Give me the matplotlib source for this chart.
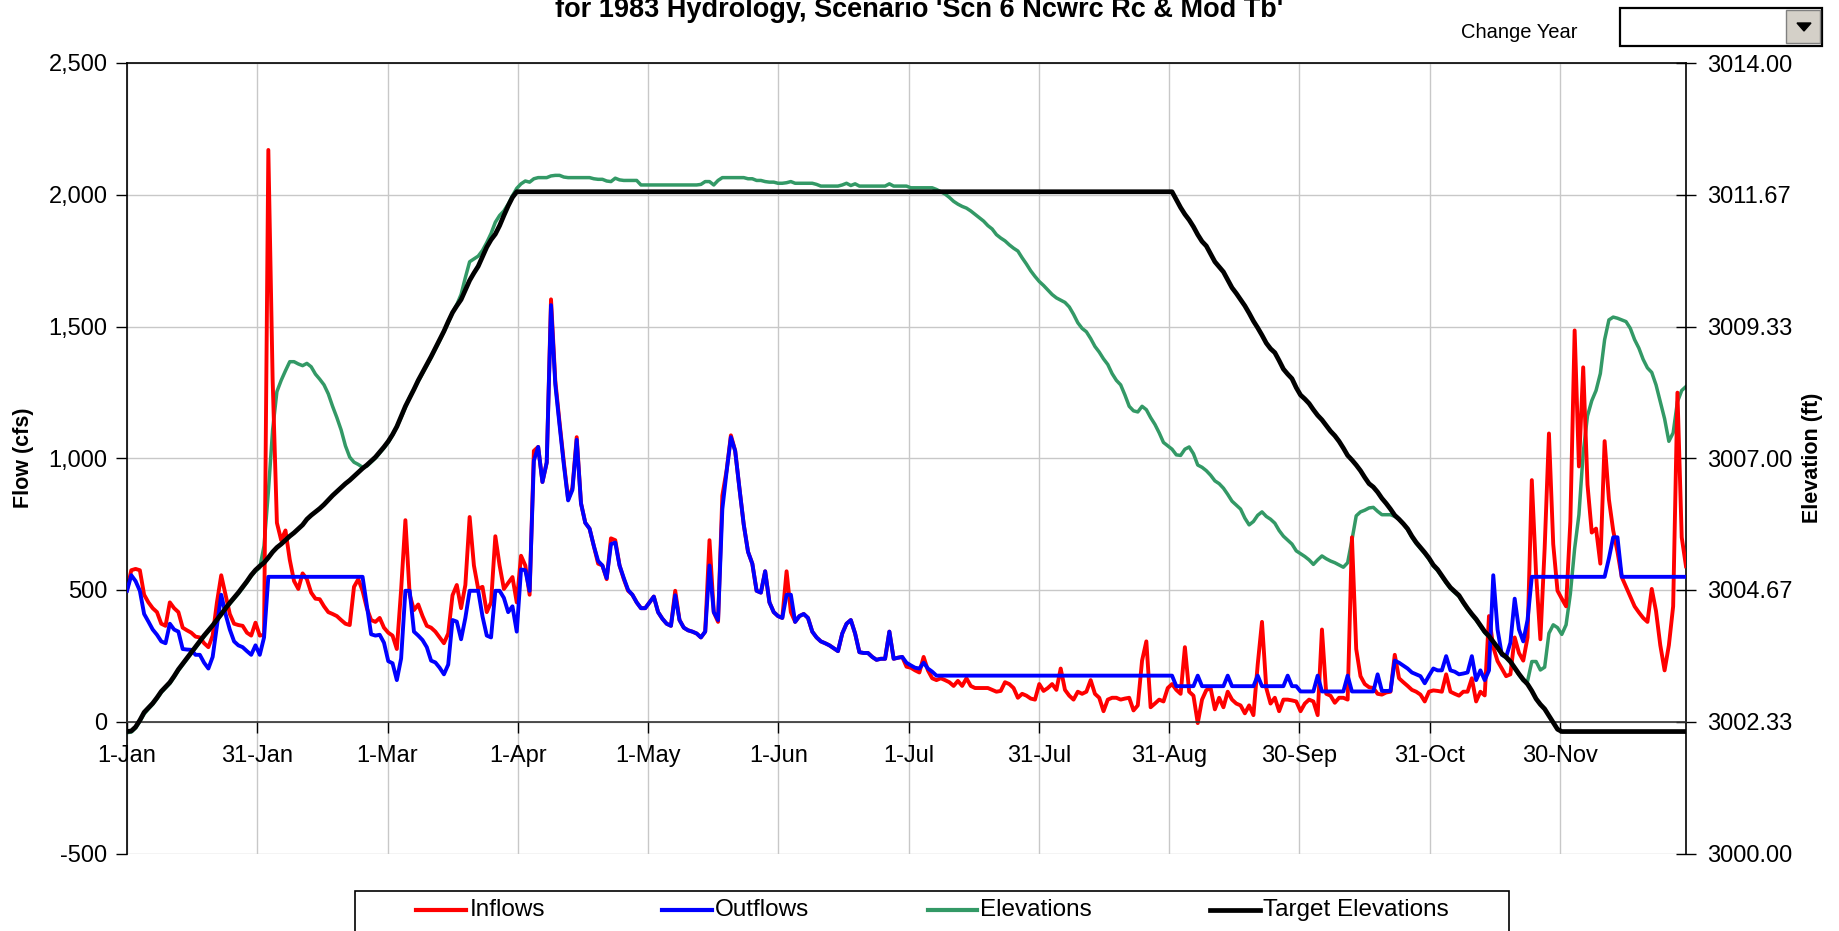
import numpy as np
import matplotlib
matplotlib.use("Agg")
import matplotlib.pyplot as plt
from matplotlib.patches import Rectangle, Polygon
from matplotlib.lines import Line2D
from matplotlib.ticker import FuncFormatter, FixedLocator

# ---------------- data (daily, 1-Jan .. 31-Dec 1983) ----------------
tick_labels = ["1-Jan", "31-Jan", "1-Mar", "1-Apr", "1-May", "1-Jun", "1-Jul",
               "31-Jul", "31-Aug", "30-Sep", "31-Oct", "30-Nov"]

inflows = [
    500, 575, 580, 575, 482, 453, 431, 416, 372, 364,
    453, 431, 416, 357, 347, 338, 323, 320, 298, 283,
    327, 453, 556, 482, 409, 372, 367, 364, 338, 327,
    376, 327, 330, 2170, 1300, 755, 689, 726, 615, 534,
    504, 563, 541, 490, 467, 465, 438, 416, 409, 401,
    386, 372, 367, 512, 541, 497, 431, 386, 379, 394,
    357, 338, 327, 276, 500, 765, 482, 424, 445, 401,
    364, 357, 342, 320, 298, 335, 480, 519, 431, 519,
    777, 593, 504, 512, 416, 453, 704, 593, 504, 527,
    549, 453, 630, 593, 482, 1028, 1043, 910, 984, 1603,
    1294, 1135, 984, 844, 888, 1080, 829, 755, 733, 667,
    600, 593, 541, 696, 689, 593, 541, 497, 482, 453,
    431, 431, 453, 475, 416, 391, 372, 364, 497, 386,
    357, 347, 342, 335, 320, 342, 689, 416, 379, 858,
    954, 1087, 1028, 885, 748, 645, 600, 497, 490, 571,
    453, 416, 401, 394, 571, 416, 379, 401, 409, 394,
    342, 320, 305, 298, 290, 279, 268, 335, 372, 386,
    335, 264, 261, 261, 246, 235, 239, 239, 342, 239,
    243, 246, 209, 205, 195, 187, 246, 195, 165, 158,
    165, 158, 150, 136, 155, 136, 165, 136, 128, 128,
    128, 128, 121, 114, 117, 150, 143, 128, 91, 106,
    99, 88, 84, 143, 117, 128, 143, 121, 202, 121,
    99, 84, 114, 106, 114, 158, 106, 91, 40, 84,
    91, 91, 84, 88, 91, 43, 62, 232, 305, 55,
    69, 84, 77, 128, 143, 121, 106, 283, 114, 99,
    -5, 84, 120, 128, 47, 91, 55, 114, 84, 69,
    62, 32, 62, 25, 217, 379, 128, 69, 91, 40,
    84, 84, 81, 77, 40, 69, 84, 77, 25, 350,
    106, 99, 72, 91, 91, 84, 700, 276, 173, 143,
    131, 128, 106, 103, 111, 114, 254, 165, 150, 136,
    121, 114, 103, 77, 114, 119, 117, 114, 180, 114,
    106, 99, 114, 114, 165, 77, 114, 100, 401, 283,
    230, 202, 173, 180, 320, 261, 232, 320, 917, 560,
    313, 659, 1094, 674, 497, 467, 438, 760, 1485, 969,
    1345, 900, 718, 733, 600, 1065, 844, 726, 645, 549,
    512, 475, 438, 415, 394, 379, 504, 420, 290, 195,
    290, 438, 1249, 700, 590,
]

outflows = (
    [497, 556, 534, 497, 409, 380, 350, 330, 305, 298,
     372, 350, 342, 276, 274, 273, 254, 254, 224, 202,
     246, 364, 482, 409, 350, 305, 290, 283, 268, 254,
     290, 254, 320]
    + [550] * 23
    + [440, 332, 327, 330,
       300, 230, 222, 158, 240, 497, 497, 342, 327, 310,
       283, 232, 225, 205, 180, 217, 386, 380, 313, 394,
       497, 497, 497, 400, 327, 320, 497, 497, 470, 416,
       438, 342, 578, 575, 497, 991, 1043, 910, 984, 1581,
       1280, 1125, 975, 840, 880, 1070, 829, 755, 733, 667,
       610, 593, 545, 674, 680, 593, 545, 500, 482, 453,
       431, 431, 453, 475, 416, 391, 372, 364, 480, 386,
       357, 347, 342, 335, 320, 342, 593, 416, 386, 807,
       950, 1080, 1028, 885, 748, 645, 600, 497, 490, 571,
       453, 416, 401, 394, 482, 482, 379, 401, 409, 394,
       342, 320, 305, 298, 290, 279, 268, 335, 372, 386,
       335, 264, 261, 261, 246, 235, 239, 239, 342, 239,
       243, 246, 224, 214, 205, 202, 224, 202, 190]
    + [175] * 56
    + [135] * 5 + [175] + [135] * 6 + [175] + [135] * 6 + [175] + [135] * 6
    + [175] + [135] * 2 + [115] * 4 + [175] + [115] * 6 + [175] + [115] * 6
    + [180, 117, 117, 117,
       232, 224, 213, 202, 187, 180, 173, 146, 175, 202,
       195, 195, 249, 195, 190, 180, 183, 187, 249, 158,
       195, 158, 195, 556, 350, 254, 246, 300, 467, 350,
       305, 386]
    + [550] * 18
    + [620, 700, 700]
    + [550] * 16
)

elevations = (
    [3002.14, 3002.15, 3002.22, 3002.34, 3002.47, 3002.56, 3002.64, 3002.74, 3002.85, 3002.93,
     3003.01, 3003.12, 3003.24, 3003.34, 3003.44, 3003.54, 3003.64, 3003.74, 3003.84, 3003.93,
     3004.02, 3004.12, 3004.22, 3004.32, 3004.42, 3004.51, 3004.60, 3004.70, 3004.80, 3004.91,
     3005.00, 3005.06, 3005.45, 3006.40, 3007.50, 3008.18, 3008.38, 3008.55, 3008.71, 3008.71,
     3008.67, 3008.64, 3008.68, 3008.62, 3008.49, 3008.40, 3008.30, 3008.14, 3007.92, 3007.72,
     3007.50, 3007.22, 3007.02, 3006.93, 3006.89, 3006.84, 3006.86, 3006.93, 3007.00, 3007.09,
     3007.18, 3007.28, 3007.41, 3007.56, 3007.72, 3007.90, 3008.08, 3008.22, 3008.36, 3008.50,
     3008.64, 3008.78, 3008.93, 3009.08, 3009.24, 3009.40, 3009.58, 3009.72, 3009.90, 3010.20,
     3010.48, 3010.53, 3010.58, 3010.68, 3010.82, 3010.98, 3011.18, 3011.30, 3011.38, 3011.50,
     3011.65, 3011.78, 3011.86, 3011.91, 3011.89, 3011.95, 3011.97, 3011.97, 3011.97, 3012.00,
     3012.01, 3012.01, 3011.98, 3011.97, 3011.97, 3011.97, 3011.97, 3011.97, 3011.97, 3011.95,
     3011.94, 3011.94, 3011.91, 3011.90, 3011.96, 3011.93, 3011.92, 3011.92, 3011.92, 3011.92]
    + [3011.84] * 14
    + [3011.85, 3011.90, 3011.90, 3011.84, 3011.92, 3011.97,
       3011.97, 3011.97, 3011.97, 3011.97, 3011.97, 3011.95, 3011.95, 3011.92, 3011.92, 3011.90,
       3011.89, 3011.89, 3011.87, 3011.87, 3011.88, 3011.90, 3011.87, 3011.87, 3011.87, 3011.87,
       3011.87, 3011.85, 3011.82, 3011.82, 3011.82, 3011.82, 3011.82, 3011.84, 3011.87, 3011.83,
       3011.86, 3011.82, 3011.82, 3011.82, 3011.82, 3011.82, 3011.82, 3011.82, 3011.86, 3011.82,
       3011.82, 3011.82, 3011.82, 3011.79, 3011.79, 3011.79, 3011.79, 3011.79, 3011.79, 3011.76,
       3011.72, 3011.68, 3011.62, 3011.55, 3011.50, 3011.46, 3011.43, 3011.38, 3011.32, 3011.26,
       3011.20, 3011.12, 3011.06, 3010.96, 3010.90, 3010.85, 3010.78, 3010.72, 3010.67, 3010.55,
       3010.44, 3010.32, 3010.22, 3010.13, 3010.06, 3009.98, 3009.90, 3009.84, 3009.80, 3009.76,
       3009.68, 3009.55, 3009.40, 3009.30, 3009.24, 3009.12, 3008.98, 3008.88, 3008.76, 3008.66,
       3008.50, 3008.38, 3008.30, 3008.12, 3007.92, 3007.84, 3007.82, 3007.92, 3007.86, 3007.72,
       3007.60, 3007.45, 3007.28, 3007.22, 3007.16, 3007.06, 3007.05, 3007.16, 3007.20, 3007.08,
       3006.88, 3006.84, 3006.78, 3006.70, 3006.60, 3006.55, 3006.47, 3006.36, 3006.24, 3006.17,
       3006.10, 3005.94, 3005.82, 3005.88, 3005.99, 3006.05, 3005.97, 3005.92, 3005.85, 3005.72,
       3005.62, 3005.55, 3005.48, 3005.36, 3005.31, 3005.26, 3005.20, 3005.12, 3005.20, 3005.27,
       3005.22, 3005.18, 3005.15, 3005.11, 3005.07, 3005.15, 3005.55, 3005.98, 3006.05, 3006.08,
       3006.12, 3006.13, 3006.06, 3006.00, 3006.00, 3006.00, 3005.97, 3005.92, 3005.84, 3005.74,
       3005.60, 3005.49, 3005.40, 3005.31, 3005.21, 3005.09, 3005.01, 3004.90, 3004.79, 3004.69,
       3004.62, 3004.55, 3004.43, 3004.32, 3004.22, 3004.13, 3004.02, 3003.91, 3003.83, 3003.73,
       3003.63, 3003.52, 3003.46, 3003.38, 3003.27, 3003.16, 3003.06, 3003.05, 3003.40, 3003.40,
       3003.25, 3003.30, 3003.90, 3004.05, 3004.00, 3003.88, 3004.05, 3004.60, 3005.40, 3006.00,
       3007.10, 3007.75, 3008.02, 3008.20, 3008.50, 3009.10, 3009.45, 3009.50, 3009.48, 3009.45,
       3009.42, 3009.30, 3009.10, 3008.95, 3008.75, 3008.60, 3008.52, 3008.30, 3008.00, 3007.70,
       3007.30, 3007.45, 3008.00, 3008.20, 3008.27]
)

target_elevations = (
    [3002.16, 3002.17, 3002.24, 3002.36, 3002.50, 3002.58, 3002.66, 3002.76, 3002.87, 3002.95,
     3003.03, 3003.14, 3003.26, 3003.36, 3003.46, 3003.56, 3003.66, 3003.76, 3003.86, 3003.95,
     3004.04, 3004.14, 3004.24, 3004.34, 3004.44, 3004.53, 3004.62, 3004.72, 3004.82, 3004.93,
     3005.02, 3005.09, 3005.15, 3005.24, 3005.34, 3005.42, 3005.48, 3005.55, 3005.62, 3005.68,
     3005.75, 3005.82, 3005.92, 3005.99, 3006.05, 3006.11, 3006.18, 3006.26, 3006.34, 3006.41,
     3006.48, 3006.55, 3006.61, 3006.68, 3006.75, 3006.82, 3006.88, 3006.95, 3007.02, 3007.11,
     3007.20, 3007.30, 3007.42, 3007.56, 3007.74, 3007.92, 3008.07, 3008.22, 3008.38, 3008.52,
     3008.66, 3008.80, 3008.95, 3009.10, 3009.25, 3009.42, 3009.58, 3009.70, 3009.81, 3009.98,
     3010.15, 3010.28, 3010.40, 3010.57, 3010.74, 3010.87, 3010.97, 3011.12, 3011.30, 3011.47,
     3011.62, 3011.72]
    + [3011.72] * 153
    + [3011.58, 3011.44, 3011.32, 3011.22, 3011.10, 3010.96, 3010.84, 3010.76, 3010.62, 3010.48,
       3010.39, 3010.30, 3010.16, 3010.02, 3009.92, 3009.81, 3009.70, 3009.57, 3009.43, 3009.31,
       3009.18, 3009.04, 3008.94, 3008.87, 3008.73, 3008.58, 3008.49, 3008.41, 3008.25, 3008.12,
       3008.05, 3007.97, 3007.86, 3007.76, 3007.68, 3007.58, 3007.48, 3007.40, 3007.30, 3007.18,
       3007.05, 3006.97, 3006.88, 3006.78, 3006.66, 3006.55, 3006.49, 3006.40, 3006.29, 3006.20,
       3006.10, 3005.99, 3005.92, 3005.84, 3005.75, 3005.62, 3005.51, 3005.42, 3005.33, 3005.23,
       3005.11, 3005.03, 3004.92, 3004.81, 3004.71, 3004.64, 3004.57, 3004.45, 3004.34, 3004.24,
       3004.15, 3004.04, 3003.93, 3003.85, 3003.75, 3003.65, 3003.54, 3003.48, 3003.40, 3003.29,
       3003.18, 3003.08, 3003.00, 3002.88, 3002.74, 3002.64, 3002.56, 3002.44, 3002.32, 3002.20]
    + [3002.16] * 30
)

n_days = 365
for name, arr in [("inflows", inflows), ("outflows", outflows),
                  ("elevations", elevations), ("target", target_elevations)]:
    assert len(arr) == n_days, (name, len(arr))

days = np.arange(n_days)
tick_pos = [k * 365 / 12 for k in range(12)]

# ---------------- styling ----------------
plt.rcParams['font.family'] = ['Liberation Sans', 'DejaVu Sans']
W, H = 1839, 931
fig = plt.figure(figsize=(W / 100, H / 100), dpi=100)
fig.patch.set_facecolor('white')

def fx(px):
    return px / W

def fy(py):
    return 1 - py / H

L, R, T, B = 127, 1686, 63, 853.5
rect = [fx(L), fy(B), (R - L) / W, (B - T) / H]

ax_el = fig.add_axes(rect)                # elevations (bottom layer, also grid)
ax = fig.add_axes(rect, sharex=ax_el)     # flows
ax_tg = fig.add_axes(rect, sharex=ax_el)  # target elevations (top layer)

for a in (ax_el, ax, ax_tg):
    a.set_xlim(0, n_days - 1)
ax.set_ylim(-500, 2500)
ax_el.set_ylim(3000, 3014)
ax_tg.set_ylim(3000, 3014)

ax_el.set_zorder(1)
ax.set_zorder(2)
ax_tg.set_zorder(3)
ax.patch.set_visible(False)
ax_tg.patch.set_visible(False)

TICK_FS = 17
grid_c = '#c8c8c8'
el_ticks = [3000 + k * 14 / 6 for k in range(7)]
ax_el.xaxis.set_major_locator(FixedLocator(tick_pos))
ax_el.yaxis.set_major_locator(FixedLocator(el_ticks))
ax_el.grid(True, color=grid_c, lw=1.0)
ax_el.tick_params(axis='x', length=0, labelbottom=False)
ax_el.yaxis.tick_right()
ax_el.yaxis.set_label_position('right')
ax_el.tick_params(axis='y', direction='inout', length=14, width=1, labelsize=TICK_FS, pad=8,
                  colors='black')
ax_el.yaxis.set_major_formatter(FuncFormatter(lambda v, p: f"{v:.2f}"))
for s in ('left', 'bottom'):
    ax_el.spines[s].set_visible(False)
for s in ('top', 'right'):
    ax_el.spines[s].set_color('black')
    ax_el.spines[s].set_linewidth(1.2)
ax_el.set_ylabel('Elevation (ft)', fontsize=15.5, fontweight='bold')
ax_el.yaxis.set_label_coords((1802 - L) / (R - L), 0.5)

ax_el.plot(days, elevations, color='#339966', lw=2.5, solid_joinstyle='round',
           label='Elevations')

# flows
ax.plot(days, inflows, color='#ff0000', lw=2.8, zorder=2, solid_joinstyle='round',
        label='Inflows')
ax.plot(days, outflows, color='#0000ff', lw=2.8, zorder=3, solid_joinstyle='round',
        label='Outflows')
ax.set_yticks([-500, 0, 500, 1000, 1500, 2000, 2500])
ax.yaxis.set_major_formatter(FuncFormatter(lambda v, p: f"{v:,.0f}"))
ax.set_xticks(tick_pos)
ax.set_xticklabels(tick_labels)
ax.spines['bottom'].set_position(('data', 0))
ax.spines['bottom'].set_color('#333333')
ax.spines['bottom'].set_linewidth(1.2)
ax.spines['left'].set_linewidth(1.2)
for s in ('top', 'right'):
    ax.spines[s].set_visible(False)
ax.tick_params(axis='y', direction='out', length=8, width=1, labelsize=TICK_FS, pad=6)
ax.tick_params(axis='x', direction='out', length=8, width=1, labelsize=TICK_FS, pad=8.5)
ax.set_ylabel('Flow (cfs)', fontsize=15.5, fontweight='bold')
ax.yaxis.set_label_coords((34 - L) / (R - L), 0.5)

# target on top
ax_tg.plot(days, target_elevations, color='black', lw=3.4, solid_joinstyle='round',
           label='Target Elevations')
ax_tg.axis('off')

# ---------------- title & header widgets ----------------
fig.text(fx(919), fy(17), "for 1983 Hydrology, Scenario 'Scn 6 Ncwrc Rc & Mod Tb'",
         ha='center', va='baseline', fontsize=19.5, fontweight='bold')
fig.text(fx(1519), fy(32), "Change Year", ha='center', va='center', fontsize=14.5)

box = Rectangle((fx(1620), fy(46)), fx(1822) - fx(1620), fy(8) - fy(46),
                transform=fig.transFigure, facecolor='white', edgecolor='black', lw=1.6)
fig.patches.append(box)
btn = Rectangle((fx(1786), fy(43)), fx(1820) - fx(1786), fy(10) - fy(43),
                transform=fig.transFigure, facecolor='#d4d0c8', edgecolor='#808080', lw=1)
fig.patches.append(btn)
tri = Polygon([(fx(1797), fy(23)), (fx(1811), fy(23)), (fx(1804), fy(31))], closed=True,
              transform=fig.transFigure, facecolor='black', edgecolor='black')
fig.patches.append(tri)

# ---------------- legend ----------------
leg = Rectangle((fx(355), fy(940)), fx(1509) - fx(355), fy(891) - fy(940),
                transform=fig.transFigure, facecolor='white', edgecolor='black', lw=1.2)
fig.patches.append(leg)
entries = [(416, 466, 470, 'Inflows', '#ff0000', 3.0),
           (662, 712, 715, 'Outflows', '#0000ff', 3.0),
           (928, 977, 980, 'Elevations', '#339966', 3.0),
           (1210, 1260, 1263, 'Target Elevations', 'black', 3.4)]
for x0, x1, xt, lab, col, lw in entries:
    fig.add_artist(Line2D([fx(x0), fx(x1)], [fy(910), fy(910)], color=col, lw=lw,
                          transform=fig.transFigure))
    fig.text(fx(xt), fy(910), lab, ha='left', va='center', fontsize=17.5)

fig.savefig('out.png', dpi=100)
